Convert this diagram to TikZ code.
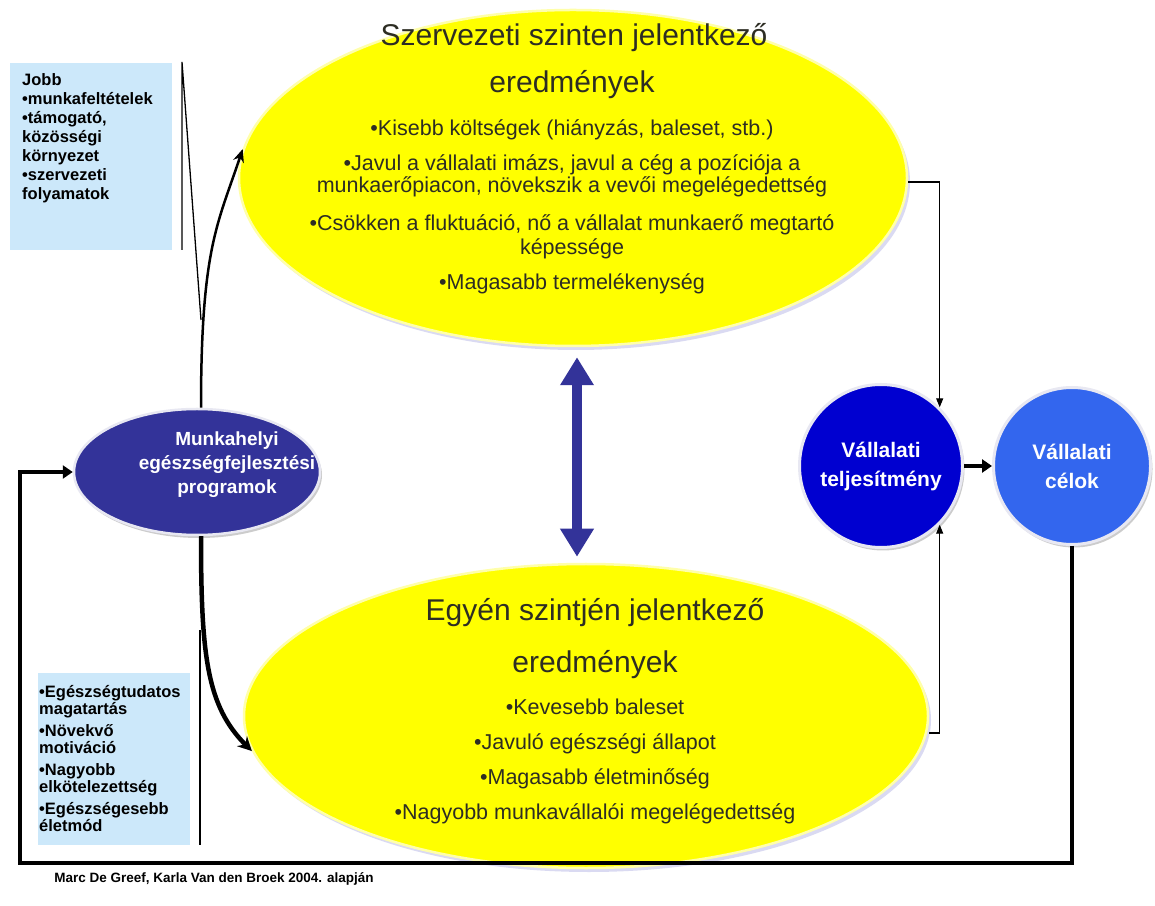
\documentclass[tikz,border=0pt]{standalone}
\usepackage{fontspec}
\setmainfont{Liberation Sans}
\usetikzlibrary{shapes.geometric,arrows.meta,shadows}

\begin{document}
\begin{tikzpicture}[x=1pt,y=1pt,
  result/.style={ellipse,fill=fillYellow,draw=rimYellow,line width=2.5pt,inner sep=0pt,
    drop shadow={shadow xshift=3pt,shadow yshift=-4pt,fill=shadowBlue,opacity=0.35}},
  headline/.style={anchor=mid,inner sep=0pt,text=textColor,font=\fontsize{30}{30}\selectfont},
  item/.style={anchor=mid,inner sep=0pt,text=textColor,font=\fontsize{21.5}{21.5}\selectfont},
  ball/.style={circle,draw=rimGray,line width=3pt,text=white,align=center,inner sep=0pt,
    font=\bfseries\fontsize{21}{29}\selectfont,
    drop shadow={shadow xshift=2pt,shadow yshift=-3pt,fill=black,opacity=0.2}},
  note/.style={anchor=north west,inner sep=0pt,align=left,text=black},
  notebox/.style={fill=boxBlue,draw=none},
  thinarrow/.style={draw=black,line width=1.2pt,-{Triangle[length=9pt,width=7pt]}},
]
\definecolor{fillColor}{RGB}{255,255,255}
\definecolor{fillYellow}{RGB}{255,255,0}
\definecolor{rimYellow}{RGB}{255,255,170}
\definecolor{shadowBlue}{RGB}{150,150,220}
\definecolor{textColor}{RGB}{45,45,35}
\definecolor{navyColor}{RGB}{51,51,153}
\definecolor{perfBlue}{RGB}{0,0,208}
\definecolor{goalBlue}{RGB}{51,102,238}
\definecolor{rimGray}{RGB}{232,232,242}
\definecolor{boxBlue}{RGB}{204,232,250}
\path[use as bounding box,fill=fillColor] (0,0) rectangle (1155,905);

% side notes
\node[notebox,minimum width=162pt,minimum height=187pt,anchor=north west] (jobbbox) at (10,842) {};
\node[note,font=\bfseries\fontsize{16.5}{19}\selectfont] (jobbtext) at (22,832)
  {Jobb\\•munkafeltételek\\•támogató,\\közösségi\\környezet\\•szervezeti\\folyamatok};
\node[notebox,minimum width=152pt,minimum height=172pt,anchor=north west] (egeszbox) at (38,232) {};
\node[note,font=\bfseries\fontsize{16.5}{17}\selectfont] (egesztext) at (39,220)
  {•Egészségtudatos\\magatartás\\[5pt]•Növekvő\\motiváció\\[5pt]•Nagyobb\\elkötelezettség\\[5pt]•Egészségesebb\\életmód};

% main shapes
\node[result,minimum width=668pt,minimum height=336pt] (szerv) at (573,727) {};
\node[result,minimum width=684pt,minimum height=304pt] (egyen) at (586,189) {};
\node[ellipse,fill=navyColor,draw=rimGray,line width=2.5pt,minimum width=246pt,minimum height=126pt,
  drop shadow={shadow xshift=2pt,shadow yshift=-3pt,fill=black,opacity=0.2}] (dark) at (197,433) {};
\node[ball,fill=perfBlue,minimum size=163pt] (perf) at (881,439) {Vállalati\\teljesítmény};
\node[ball,fill=goalBlue,minimum size=157pt] (goals) at (1072,439) {Vállalati\\célok};

% texts
\node[headline] (szt1) at (574,862) {Szervezeti szinten jelentkező};
\node[headline] (szt2) at (572,815) {eredmények};
\node[item] (sz1) at (572,772) {•Kisebb költségek (hiányzás, baleset, stb.)};
\node[item] (sz2) at (572,737) {•Javul a vállalati imázs, javul a cég a pozíciója a};
\node[item] (sz3) at (572,715) {munkaerőpiacon, növekszik a vevői megelégedettség};
\node[item] (sz4) at (572,677) {•Csökken a fluktuáció, nő a vállalat munkaerő megtartó};
\node[item] (sz5) at (572,653) {képessége};
\node[item] (sz6) at (572,618) {•Magasabb termelékenység};

\node[headline] (egt1) at (595,287) {Egyén szintjén jelentkező};
\node[headline] (egt2) at (595,235) {eredmények};
\node[item] (eg1) at (595,193) {•Kevesebb baleset};
\node[item] (eg2) at (595,158) {•Javuló egészségi állapot};
\node[item] (eg3) at (595,123) {•Magasabb életminőség};
\node[item] (eg4) at (595,88) {•Nagyobb munkavállalói megelégedettség};

\node[text=white,align=center,inner sep=0pt,font=\bfseries\fontsize{19}{24}\selectfont] (darktext) at (227,440)
  {Munkahelyi\\egészségfejlesztési\\programok};

\node[anchor=mid,inner sep=0pt,font=\bfseries\fontsize{13.5}{13.5}\selectfont] (source) at (214,25)
  {Marc De Greef, Karla Van den Broek 2004. alapján};

% callout lines
\coordinate (jobbtop) at (182,843);
\coordinate (jobbbot) at (182,655);
\coordinate (jobbtip) at (201,585);
\coordinate (egesztop) at (200,275);
\coordinate (egeszbot) at (200,60);
\draw[line width=1.3pt] (jobbbot) -- (jobbtop) -- (jobbtip);
\draw[line width=1.3pt] (egesztop) -- (egeszbot);

% connectors
\draw[line width=2.5pt,-{Stealth[length=13pt,width=11pt]}] ([xshift=4pt]dark.north)
  .. controls +(0,160) and +(-25,-75) .. (szerv.175);
\draw[line width=4.5pt,-{Stealth[length=14pt,width=14pt]}] ([xshift=4pt]dark.south)
  .. controls +(0,-120) and +(-45,45) .. (egyen.186);
\draw[line width=10pt,draw=navyColor,{Triangle[length=28pt,width=32pt]}-{Triangle[length=28pt,width=32pt]}]
  ([xshift=4pt,yshift=-10pt]szerv.south) -- ([xshift=-9pt,yshift=6pt]egyen.north);
\draw[thinarrow] ([yshift=-4pt]szerv.east) -| (perf.north east);
\draw[thinarrow] ([yshift=-17pt]egyen.east) -| (perf.south east);
\draw[line width=4pt,-{Triangle[length=10pt,width=13pt]}] (perf.east) -- (goals.west);
\coordinate (loopbl) at (20,42);
\draw[line width=3.5pt,-{Triangle[length=10pt,width=13pt]}] (goals.south) |- (loopbl) |- (dark.west);
\end{tikzpicture}
\end{document}
